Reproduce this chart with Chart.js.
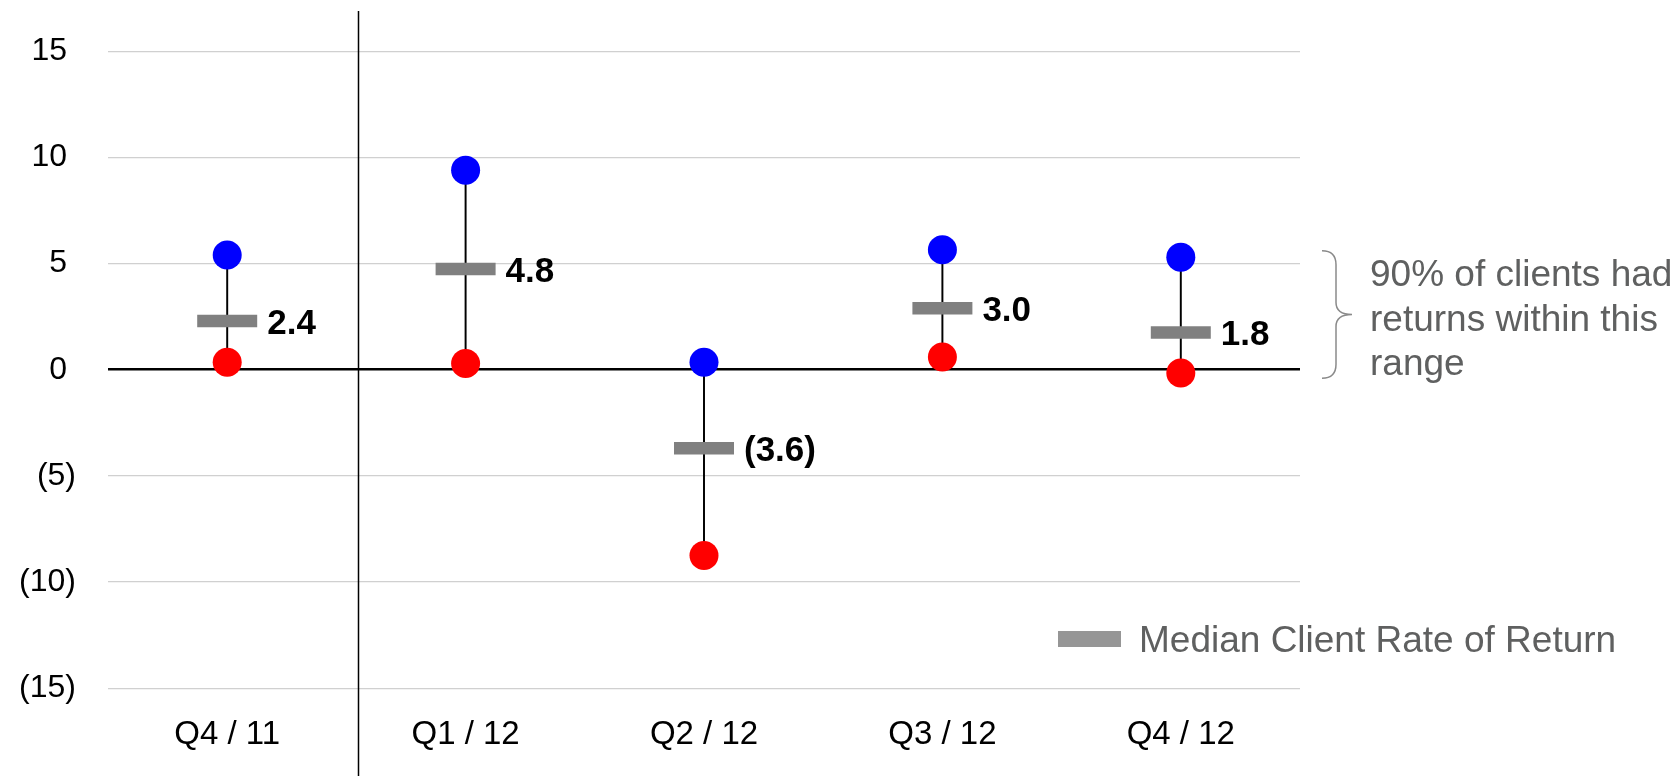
<!DOCTYPE html>
<html>
<head>
<meta charset="utf-8">
<script src="https://cdn.jsdelivr.net/npm/chart.js@4"></script>
<style>
html,body{margin:0;padding:0;background:#fff;}
#wrap{position:relative;width:1678px;height:776px;}
</style>
</head>
<body>
<div id="wrap"><canvas id="c" width="1678" height="776"></canvas></div>
<script>
const categories = ['Q4 / 11', 'Q1 / 12', 'Q2 / 12', 'Q3 / 12', 'Q4 / 12'];
const highValues = [5.4, 9.4, 0.35, 5.65, 5.3];
const lowValues = [0.35, 0.3, -8.75, 0.6, -0.15];
const medianValues = [2.3, 4.75, -3.7, 2.9, 1.75];
const medianLabels = ['2.4', '4.8', '(3.6)', '3.0', '1.8'];
const yTicks = [15, 10, 5, 0, -5, -10, -15];
const legendText = 'Median Client Rate of Return';
const noteLines = ['90% of clients had', 'returns within this', 'range'];

const FONT = '"Liberation Sans", Arial, sans-serif';

function fmtTick(v) {
  if (v < 0) return '(' + Math.abs(v) + ')';
  return v + ' ';
}

const decor = {
  id: 'decor',
  afterDatasetsDraw(chart) {
    const ctx = chart.ctx;
    const x = chart.scales.x, y = chart.scales.y;
    ctx.save();
    // median value labels
    const meta = chart.getDatasetMeta(1);
    ctx.font = 'bold 35px ' + FONT;
    ctx.fillStyle = '#000';
    ctx.textAlign = 'left';
    ctx.textBaseline = 'middle';
    meta.data.forEach((pt, i) => {
      ctx.fillText(medianLabels[i], pt.x + 40, pt.y + 3);
    });
    // separator vertical line
    const sx = Math.round(x.getPixelForValue(0.55)) + 0.5;
    ctx.strokeStyle = '#000';
    ctx.lineWidth = 1.5;
    ctx.beginPath();
    ctx.moveTo(sx, 11);
    ctx.lineTo(sx, chart.height);
    ctx.stroke();
    // legend
    ctx.fillStyle = '#969696';
    ctx.fillRect(1058, 631, 63, 16);
    ctx.font = '37px ' + FONT;
    ctx.fillStyle = '#5f6060';
    ctx.textBaseline = 'alphabetic';
    ctx.fillText(legendText, 1139, 652);
    // brace
    const top = y.getPixelForValue(5.6), bot = y.getPixelForValue(-0.4);
    const mid = (top + bot) / 2;
    const bx = 1322;
    ctx.strokeStyle = '#8a8a8a';
    ctx.lineWidth = 1.5;
    ctx.beginPath();
    ctx.moveTo(bx, top);
    ctx.quadraticCurveTo(bx + 14, top, bx + 14, top + 14);
    ctx.lineTo(bx + 14, mid - 12);
    ctx.quadraticCurveTo(bx + 14, mid, bx + 30, mid);
    ctx.quadraticCurveTo(bx + 14, mid, bx + 14, mid + 12);
    ctx.lineTo(bx + 14, bot - 14);
    ctx.quadraticCurveTo(bx + 14, bot, bx, bot);
    ctx.stroke();
    ctx.fillStyle = '#5f6060';
    ctx.font = '37px ' + FONT;
    noteLines.forEach((t, i) => ctx.fillText(t, 1370, 286 + i * 44.5));
    ctx.restore();
  }
};

new Chart(document.getElementById('c'), {
  type: 'bar',
  data: {
    labels: categories,
    datasets: [
      {
        type: 'bar',
        label: 'Range',
        data: categories.map((c, i) => [lowValues[i], highValues[i]]),
        backgroundColor: '#000',
        barThickness: 1.3,
        order: 10
      },
      {
        type: 'line',
        label: legendText,
        data: medianValues,
        showLine: false,
        pointStyle: 'line',
        pointRadius: 30,
        pointBorderWidth: 12.5,
        pointBorderColor: '#808080',
        pointBackgroundColor: '#808080',
        order: 2
      },
      {
        type: 'line',
        label: 'High',
        data: highValues,
        showLine: false,
        pointStyle: 'circle',
        pointRadius: 14.5,
        pointBorderWidth: 0,
        pointBackgroundColor: '#0000ff',
        order: 0
      },
      {
        type: 'line',
        label: 'Low',
        data: lowValues,
        showLine: false,
        pointStyle: 'circle',
        pointRadius: 14.5,
        pointBorderWidth: 0,
        pointBackgroundColor: '#ff0000',
        order: 1
      }
    ]
  },
  options: {
    responsive: false,
    animation: false,
    events: [],
    layout: { padding: { left: 0, right: 378, top: 49, bottom: 0 } },
    plugins: { legend: { display: false }, tooltip: { enabled: false } },
    scales: {
      x: {
        grid: { display: false, drawTicks: false },
        border: { display: false },
        ticks: { color: '#000', font: { family: FONT, size: 33 }, padding: 27, maxRotation: 0 },
        afterFit(s) { s.height = 776 - 688.3; }
      },
      y: {
        min: -15, max: 15,
        afterBuildTicks(s) { s.ticks = yTicks.map(v => ({ value: v })); },
        grid: {
          drawTicks: false,
          color: (c) => c.tick && c.tick.value === 0 ? '#000' : '#d0d0d0',
          lineWidth: (c) => c.tick && c.tick.value === 0 ? 2.5 : 1.3
        },
        border: { display: false },
        ticks: {
          color: '#000', font: { family: FONT, size: 32 }, padding: 32,
          callback: (v) => fmtTick(v)
        },
        afterFit(s) { s.width = 108; }
      }
    }
  },
  plugins: [decor]
});
</script>
</body>
</html>
